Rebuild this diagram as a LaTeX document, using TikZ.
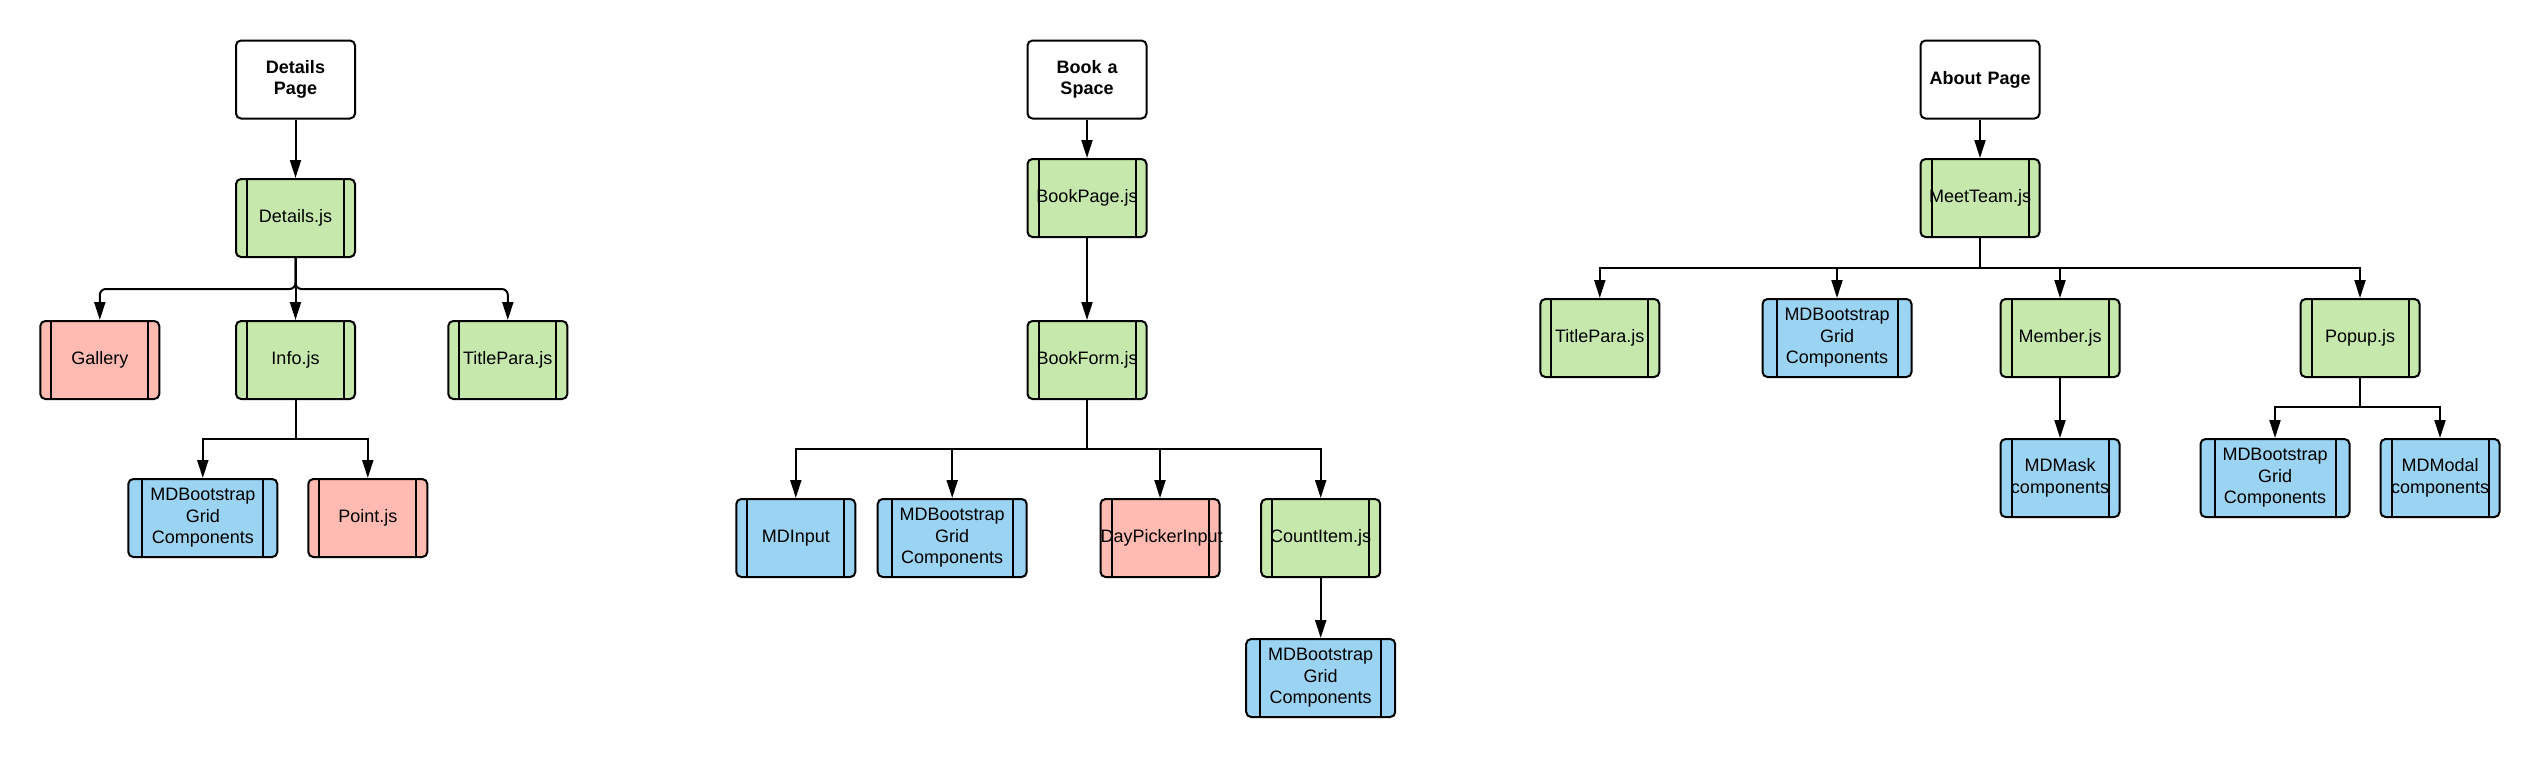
\documentclass[tikz,border=0pt]{standalone}
\usepackage{fontspec}
\setmainfont{Liberation Sans}
\usetikzlibrary{arrows.meta}
\definecolor{cgreen}{HTML}{C7E8AC}
\definecolor{cred}{HTML}{FFBBB1}
\definecolor{cblue}{HTML}{9BD3F3}
\begin{document}
\begin{tikzpicture}[x=1pt,y=-1pt,
  box/.style={draw, line width=2pt, rounded corners=5pt, minimum height=78pt, inner sep=0pt, align=center, font=\fontsize{18}{21.5}\selectfont},
  titlebox/.style={box, fill=white, minimum width=119pt, text width=119pt, font=\fontsize{18}{21.5}\selectfont\bfseries},
  comp/.style={box, minimum width=119pt, text width=119pt,
    path picture={\draw[line width=2pt]
      ([xshift=11pt]path picture bounding box.north west) -- ([xshift=11pt]path picture bounding box.south west)
      ([xshift=-11pt]path picture bounding box.north east) -- ([xshift=-11pt]path picture bounding box.south east);}},
  wcomp/.style={box, minimum width=149pt, text width=149pt,
    path picture={\draw[line width=2pt]
      ([xshift=14pt]path picture bounding box.north west) -- ([xshift=14pt]path picture bounding box.south west)
      ([xshift=-14pt]path picture bounding box.north east) -- ([xshift=-14pt]path picture bounding box.south east);}},
  conn/.style={line width=2pt, -{Triangle[length=18pt,width=11pt]}}
]
\fill[white] (0,0) rectangle (2540,758);

% ---------- Details tree ----------
\node[titlebox] (dpage) at (295.5,79.5) {Details\\Page};
\node[comp, fill=cgreen] (detailsjs) at (295.5,218) {Details.js};
\node[comp, fill=cred] (gallery) at (99.8,360) {Gallery};
\node[comp, fill=cgreen] (info) at (295.5,360) {Info.js};
\node[comp, fill=cgreen] (titlepara1) at (507.8,360) {TitlePara.js};
\node[wcomp, fill=cblue] (mdb1) at (202.8,518) {MDBootstrap\\Grid\\Components};
\node[comp, fill=cred] (point) at (367.8,518) {Point.js};

\draw[conn] (dpage.south) -- (detailsjs.north);
\draw[conn, rounded corners=6pt] (detailsjs.south) -- ++(0,31) -| (gallery.north);
\draw[conn] (detailsjs.south) -- (info.north);
\draw[conn, rounded corners=6pt] (detailsjs.south) -- ++(0,31) -| (titlepara1.north);
\draw[conn] (info.south) -- ++(0,39) -| (mdb1.north);
\draw[conn] (info.south) -- ++(0,39) -| (point.north);

% ---------- Book tree ----------
\node[titlebox] (book) at (1087,79.5) {Book a\\Space};
\node[comp, fill=cgreen] (bookpage) at (1087,198) {BookPage.js};
\node[comp, fill=cgreen] (bookform) at (1087,360) {BookForm.js};
\node[comp, fill=cblue] (mdinput) at (795.8,538) {MDInput};
\node[wcomp, fill=cblue] (mdb2) at (952.2,538) {MDBootstrap\\Grid\\Components};
\node[comp, fill=cred] (daypicker) at (1160,538) {DayPickerInput};
\node[comp, fill=cgreen] (countitem) at (1320.7,538) {CountItem.js};
\node[wcomp, fill=cblue] (mdb3) at (1320.7,678) {MDBootstrap\\Grid\\Components};

\draw[conn] (book.south) -- (bookpage.north);
\draw[conn] (bookpage.south) -- (bookform.north);
\draw[conn] (bookform.south) -- ++(0,49) -| (mdinput.north);
\draw[conn] (bookform.south) -- ++(0,49) -| (mdb2.north);
\draw[conn] (bookform.south) -- ++(0,49) -| (daypicker.north);
\draw[conn] (bookform.south) -- ++(0,49) -| (countitem.north);
\draw[conn] (countitem.south) -- (mdb3.north);

% ---------- About tree ----------
\node[titlebox] (about) at (1980,79.5) {About Page};
\node[comp, fill=cgreen] (meetteam) at (1980,198) {MeetTeam.js};
\node[comp, fill=cgreen] (titlepara2) at (1599.8,338) {TitlePara.js};
\node[wcomp, fill=cblue] (mdb4) at (1837,338) {MDBootstrap\\Grid\\Components};
\node[comp, fill=cgreen] (member) at (2060,338) {Member.js};
\node[comp, fill=cgreen] (popup) at (2360,338) {Popup.js};
\node[comp, fill=cblue] (mdmask) at (2060,478) {MDMask\\components};
\node[wcomp, fill=cblue] (mdb5) at (2275,478) {MDBootstrap\\Grid\\Components};
\node[comp, fill=cblue] (mdmodal) at (2440,478) {MDModal\\components};

\draw[conn] (about.south) -- (meetteam.north);
\draw[conn] (meetteam.south) -- ++(0,30) -| (titlepara2.north);
\draw[conn] (meetteam.south) -- ++(0,30) -| (mdb4.north);
\draw[conn] (meetteam.south) -- ++(0,30) -| (member.north);
\draw[conn] (meetteam.south) -- ++(0,30) -| (popup.north);
\draw[conn] (member.south) -- (mdmask.north);
\draw[conn] (popup.south) -- ++(0,29) -| (mdb5.north);
\draw[conn] (popup.south) -- ++(0,29) -| (mdmodal.north);
\end{tikzpicture}
\end{document}
